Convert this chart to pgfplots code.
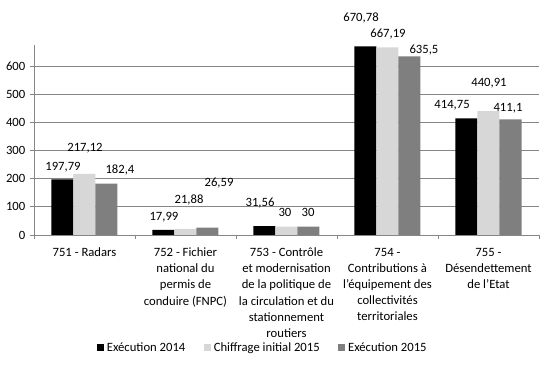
\documentclass[border=0pt]{standalone}
\usepackage{pgfplots}
\pgfplotsset{compat=1.18}
\usepackage{fontspec}
\setmainfont{Carlito}
\definecolor{gridc}{RGB}{134,134,134}
\definecolor{lightbar}{RGB}{215,215,215}
\definecolor{darkbar}{RGB}{127,127,127}
\newcommand{\lf}{\fontsize{9.5}{12.4}\selectfont}
\newcommand{\xf}{\fontsize{9.5}{12.1}\selectfont}
\begin{document}
\begin{tikzpicture}
\begin{axis}[
  scale only axis, width=378.75pt, height=142.5pt,
  xmin=-0.5, xmax=4.5, ymin=0, ymax=676,
  clip=false,
  axis x line*=bottom, axis y line*=left,
  axis line style={draw=gridc, line width=0.6pt},
  ytick={0,100,...,600},
  ymajorgrids, major grid style={draw=gridc, line width=0.6pt},
  xtick={0,...,4},
  xticklabels={
    {751 - Radars},
    {752 - Fichier\\national du\\permis de\\conduire (FNPC)},
    {753 - Contrôle\\et modernisation\\de la politique de\\la circulation et du\\stationnement\\routiers},
    {754 -\\Contributions à\\l'équipement des\\collectivités\\territoriales},
    {755 -\\Désendettement\\de l'Etat}},
  minor xtick={-0.5,0.5,...,4.5},
  major x tick style={draw=none},
  minor x tick style={draw=gridc, line width=0.6pt},
  y tick style={draw=gridc, line width=0.6pt},
  tick align=outside, major tick length=3pt, minor tick length=3pt,
  xticklabel style={align=center, font=\xf, inner sep=0pt, yshift=-6.5pt},
  yticklabel style={font=\lf},
  /pgf/number format/assume math mode=true,
  ybar=0pt, bar width=16.5pt,
  legend columns=3,
  legend style={draw=none, fill=none, font=\lf, at={(0.454,-0.594)}, anchor=center,
    /tikz/every even column/.append style={column sep=12pt}},
  legend image code/.code={\fill[#1] (0pt,-2.6pt) rectangle (5.25pt,2.6pt);},
]
\addplot[fill=black, draw=none] coordinates {(0,197.79) (1,17.99) (2,31.56) (3,670.78) (4,414.75)};
\addplot[fill=lightbar, draw=none] coordinates {(0,217.12) (1,21.88) (2,30) (3,667.19) (4,440.91)};
\addplot[fill=darkbar, draw=none] coordinates {(0,182.4) (1,26.59) (2,30) (3,635.5) (4,411.1)};
\legend{Exécution 2014, Chiffrage initial 2015, Exécution 2015}
\begin{scope}[every node/.style={font=\lf, inner sep=0pt, anchor=center}]
\node at (axis cs:-0.213,242) {197,79};
\node at (axis cs:0.005,310) {217,12};
\node at (axis cs:0.351,231) {182,4};
\node at (axis cs:0.787,64) {17,99};
\node at (axis cs:1.035,125) {21,88};
\node at (axis cs:1.332,185) {26,59};
\node at (axis cs:1.738,114) {31,56};
\node at (axis cs:1.985,82) {30};
\node at (axis cs:2.213,82) {30};
\node at (axis cs:2.738,772) {670,78};
\node at (axis cs:3.005,715) {667,19};
\node at (axis cs:3.361,658) {635,5};
\node at (axis cs:3.639,463) {414,75};
\node at (axis cs:4.005,541) {440,91};
\node at (axis cs:4.193,452) {411,1};
\end{scope}
\path (axis description cs:-0.0673,-0.6895) rectangle (axis description cs:1.002,1.2368);
\end{axis}
\end{tikzpicture}
\end{document}
